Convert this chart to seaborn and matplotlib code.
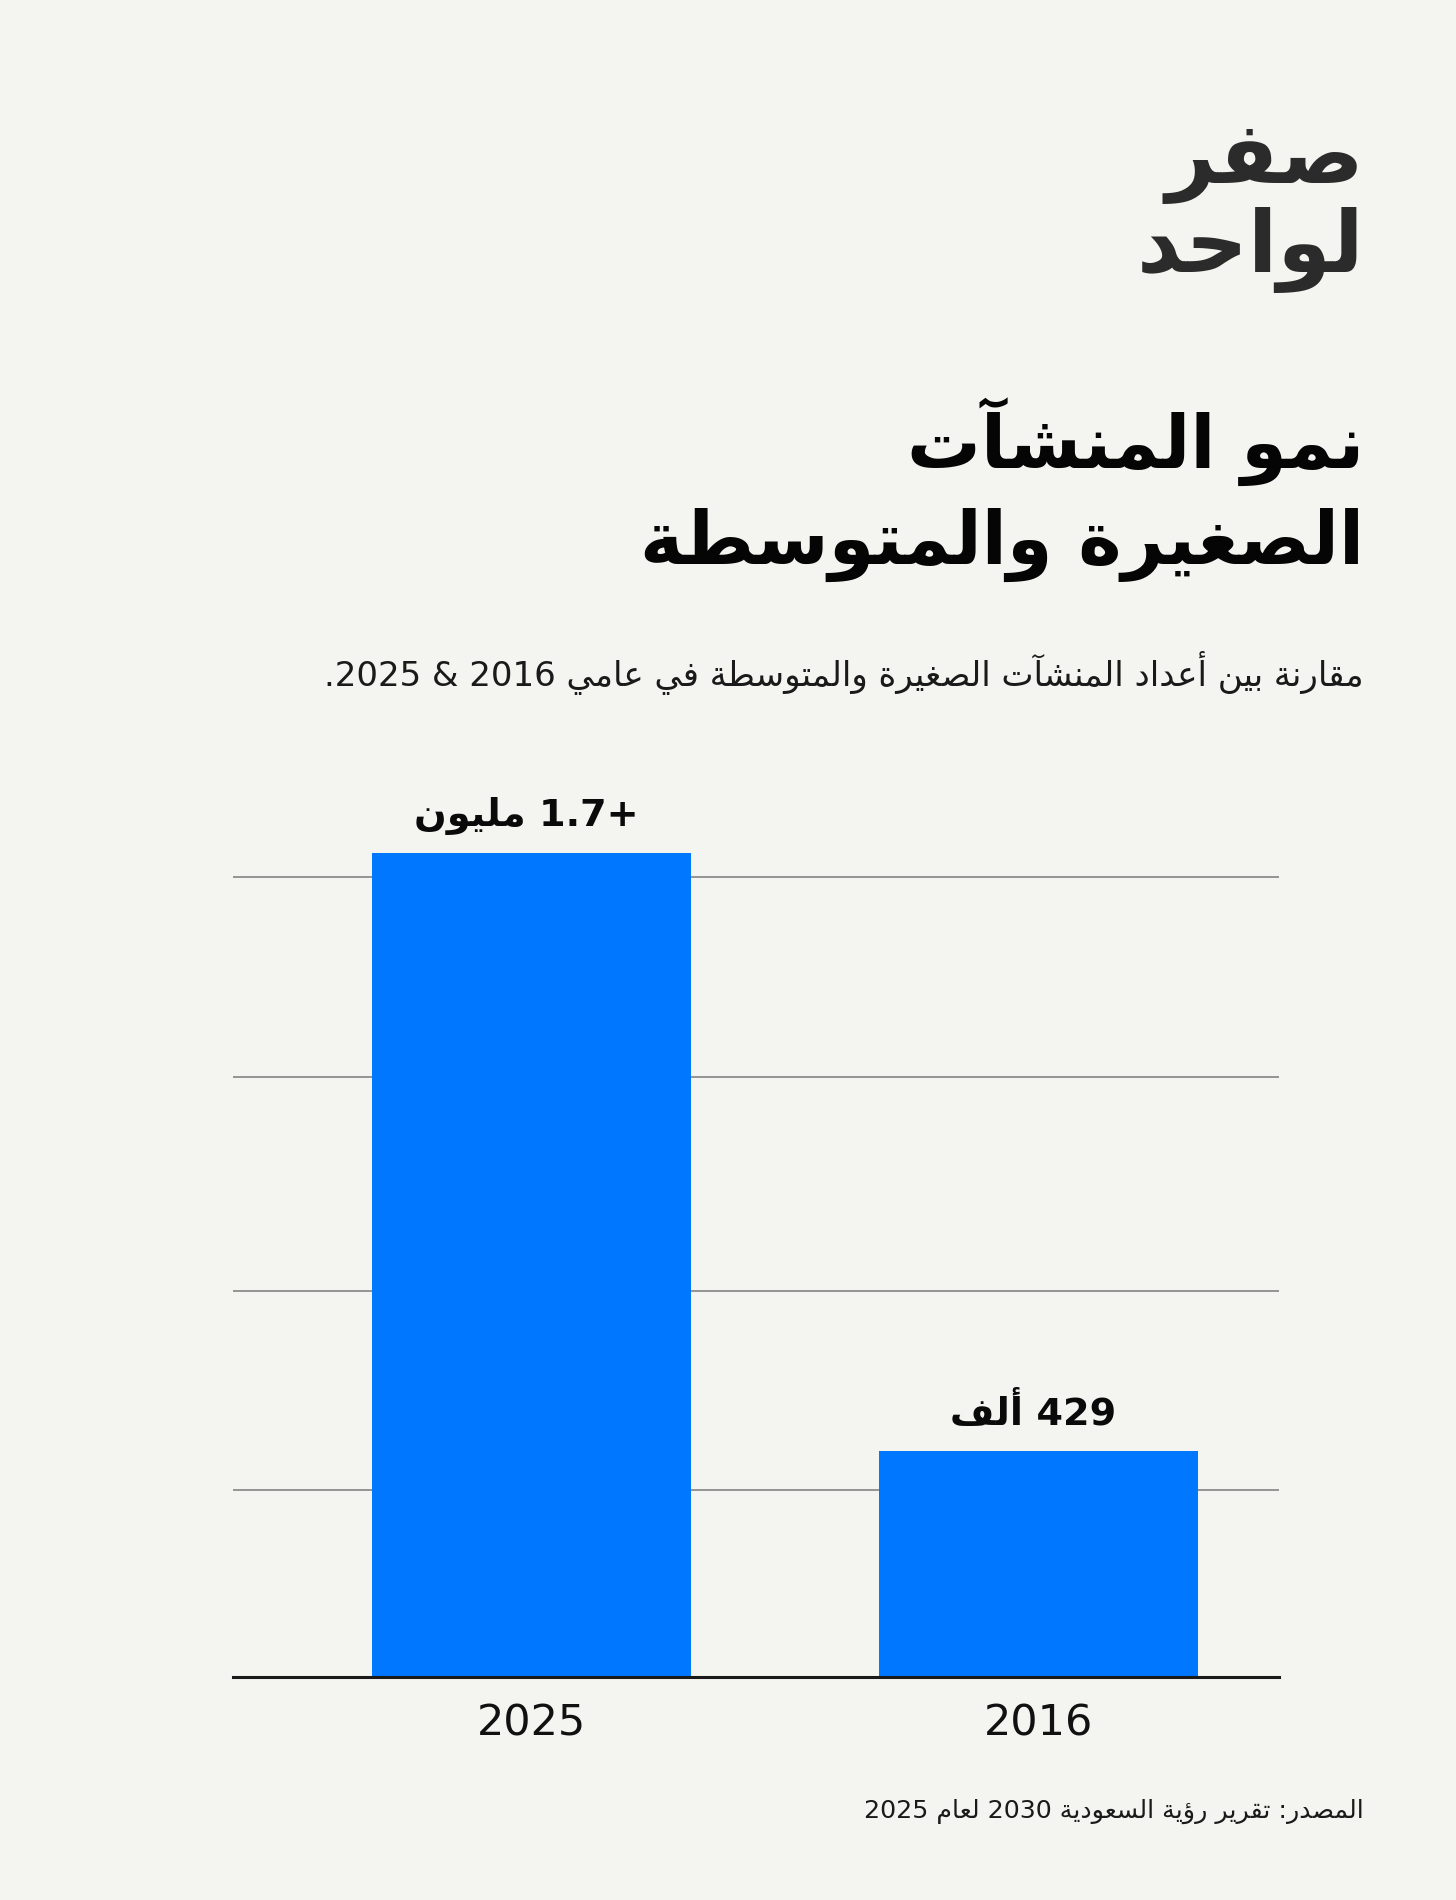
import re
import pandas as pd
import seaborn as sns
import matplotlib.pyplot as plt

# data (bar heights in thousands, as drawn)
years = ["2025", "2016"]
counts = [1700, 467]
bar_labels = ["+1.7 مليون", "429 ألف"]
grid_values = [386, 797, 1238, 1651]

logo_lines = ["صفر", "لواحد"]
title_lines = ["نمو المنشآت", "الصغيرة والمتوسطة"]
subtitle = "مقارنة بين أعداد المنشآت الصغيرة والمتوسطة في عامي 2016 & 2025."
source = "المصدر: تقرير رؤية السعودية 2030 لعام 2025"

BG = "#f4f4f0"
BLUE = "#0077ff"

# small arabic shaper: contextual forms + right-to-left order
ISO = {
    "ء": 0xFE80, "آ": 0xFE81, "أ": 0xFE83, "ؤ": 0xFE85, "إ": 0xFE87, "ئ": 0xFE89,
    "ا": 0xFE8D, "ب": 0xFE8F, "ة": 0xFE93, "ت": 0xFE95, "ث": 0xFE99, "ج": 0xFE9D,
    "ح": 0xFEA1, "خ": 0xFEA5, "د": 0xFEA9, "ذ": 0xFEAB, "ر": 0xFEAD, "ز": 0xFEAF,
    "س": 0xFEB1, "ش": 0xFEB5, "ص": 0xFEB9, "ض": 0xFEBD, "ط": 0xFEC1, "ظ": 0xFEC5,
    "ع": 0xFEC9, "غ": 0xFECD, "ف": 0xFED1, "ق": 0xFED5, "ك": 0xFED9, "ل": 0xFEDD,
    "م": 0xFEE1, "ن": 0xFEE5, "ه": 0xFEE9, "و": 0xFEED, "ى": 0xFEEF, "ي": 0xFEF1,
}
RIGHT_ONLY = "آأؤإادذرزوىة"
LAM_ALEF = {"آ": 0xFEF5, "أ": 0xFEF7, "إ": 0xFEF9, "ا": 0xFEFB}


def jtype(c):
    if c is None or c not in ISO or c == "ء":
        return "U"
    return "R" if c in RIGHT_ONLY else "D"


def ar(s):
    out = []
    i = 0
    n = len(s)
    while i < n:
        c = s[i]
        if c not in ISO:
            out.append(c)
            i += 1
            continue
        prev = s[i - 1] if i > 0 else None
        jp = jtype(prev) == "D" and jtype(c) in "DR"
        if c == "ل" and i + 1 < n and s[i + 1] in LAM_ALEF:
            out.append(chr(LAM_ALEF[s[i + 1]] + (1 if jp else 0)))
            i += 2
            continue
        nxt = s[i + 1] if i + 1 < n else None
        jn = jtype(c) == "D" and jtype(nxt) in "DR"
        off = 3 if (jp and jn) else 1 if jp else 2 if jn else 0
        out.append(chr(ISO[c] + off))
        i += 1
    vis = "".join(out)[::-1]
    return re.sub(r"[0-9]+(?:\.[0-9]+)?", lambda m: m.group(0)[::-1], vis)


sns.set_theme(style="white")
plt.rcParams["font.family"] = ["DejaVu Sans"]

df = pd.DataFrame({"year": years, "count": counts})

W, H = 1456, 1900
fig = plt.figure(figsize=(W / 100, H / 100), dpi=100, facecolor=BG)
ax = fig.add_axes([233 / W, 1 - 1677 / H, (1279 - 233) / W, 877 / H])
ax.set_facecolor(BG)

sns.barplot(data=df, x="year", y="count", order=years, color=BLUE,
            width=0.629, saturation=1, linewidth=0, ax=ax)

ax.set_xlim(-0.589, 1.474)
ax.set_ylim(0, 1810)
ax.set_yticks(grid_values)
ax.set_yticklabels([])
ax.yaxis.grid(True, color="#8c8c8c", linewidth=1.3)
ax.set_axisbelow(True)
for s in ["top", "left", "right"]:
    ax.spines[s].set_visible(False)
ax.spines["bottom"].set_color("#1a1a1a")
ax.spines["bottom"].set_linewidth(2.2)
ax.spines["bottom"].set_zorder(5)
ax.tick_params(axis="y", length=0)
ax.tick_params(axis="x", length=0, pad=18, labelsize=31, labelcolor="#111111")
ax.set_xlabel("")
ax.set_ylabel("")

for i, (v, lab) in enumerate(zip(counts, bar_labels)):
    ax.annotate(ar(lab), (i, v), xytext=(-4, 13), textcoords="offset points",
                ha="center", va="bottom", fontsize=27.5, fontweight="bold",
                color="#0a0a0a")

rx = 1364 / W
fig.text(rx, 1 - 163 / H, ar(logo_lines[0]), ha="right", va="center",
         fontsize=62, fontweight="bold", color="#2b2b2b")
fig.text(rx, 1 - 250 / H, ar(logo_lines[1]), ha="right", va="center",
         fontsize=62, fontweight="bold", color="#2b2b2b")
fig.text(rx, 1 - 442 / H, ar(title_lines[0]), ha="right", va="center",
         fontsize=53, fontweight="bold", color="#050505")
fig.text(rx, 1 - 545 / H, ar(title_lines[1]), ha="right", va="center",
         fontsize=53, fontweight="bold", color="#050505")
fig.text(rx, 1 - 672 / H, ar(subtitle), ha="right", va="center",
         fontsize=24.5, color="#1a1a1a")
fig.text(rx, 1 - 1811 / H, ar(source), ha="right", va="center",
         fontsize=18.2, color="#1a1a1a")

fig.savefig("out.png", dpi=100, facecolor=BG)
